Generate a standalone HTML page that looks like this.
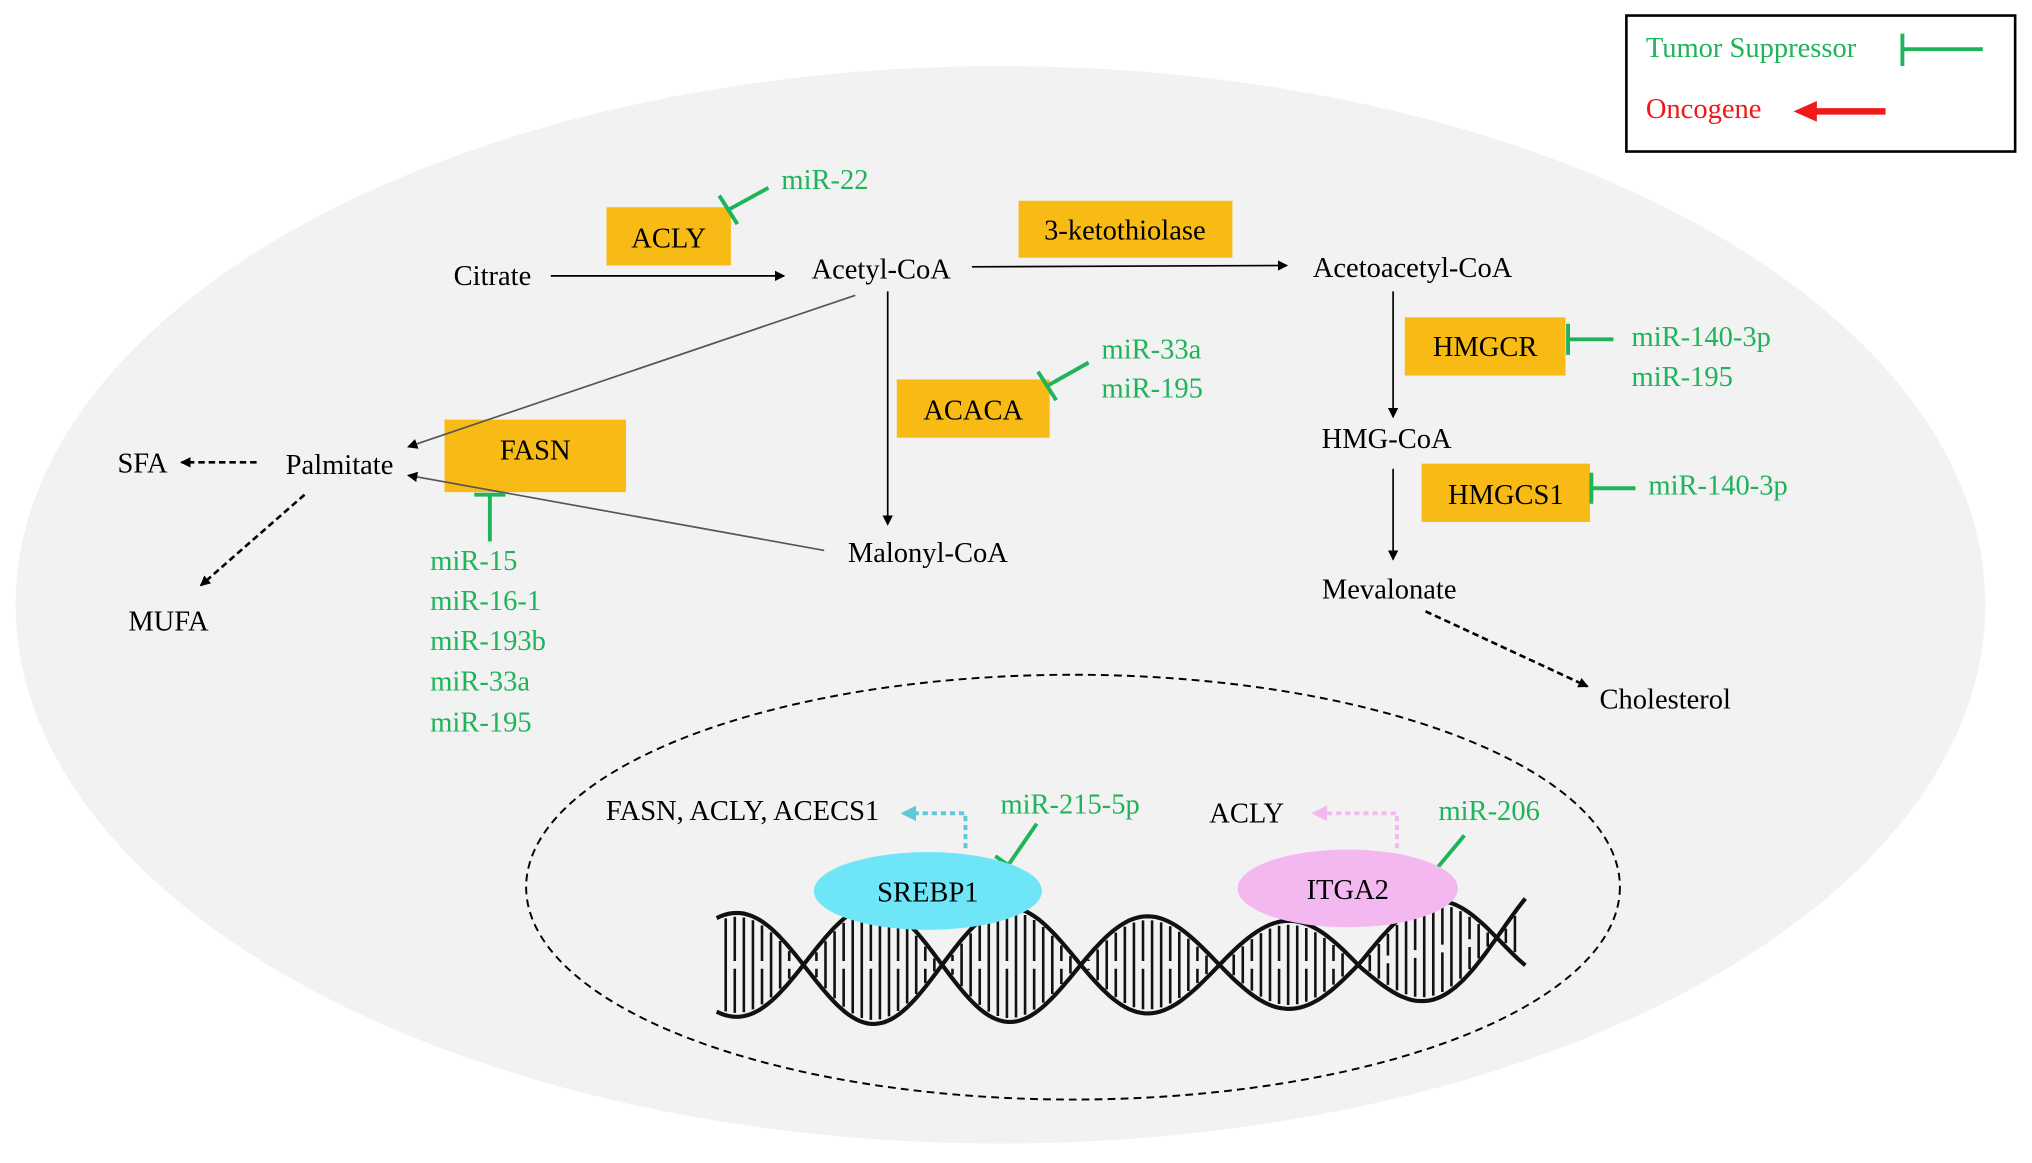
<!DOCTYPE html>
<html><head><meta charset="utf-8"><style>
html,body{margin:0;padding:0;background:#fff;}
svg{display:block;}
text{font-family:"Liberation Serif",serif;font-size:22px;}
.g{fill:#1fb35a;}
.o{fill:#f8bb15;}
</style></head><body>
<svg id="s" width="2032" height="1163" viewBox="0 0 1568 898" preserveAspectRatio="none" xmlns="http://www.w3.org/2000/svg">
<defs>
<marker id="a" markerWidth="8" markerHeight="8" refX="7" refY="4" orient="auto" markerUnits="userSpaceOnUse"><path d="M0,0 L8,4 L0,8 z" fill="#000"/></marker>
<marker id="ac" markerWidth="12" markerHeight="12" refX="10" refY="6" orient="auto" markerUnits="userSpaceOnUse"><path d="M0,0 L12,6 L0,12 z" fill="#5cc8d8"/></marker>
<marker id="ap" markerWidth="12" markerHeight="12" refX="10" refY="6" orient="auto" markerUnits="userSpaceOnUse"><path d="M0,0 L12,6 L0,12 z" fill="#f4b8f0"/></marker>
</defs>
<rect width="1568" height="898" fill="#fff"/>
<ellipse cx="772" cy="467" rx="760" ry="416" fill="#f2f2f2"/>
<rect x="1255" y="12" width="300" height="105" fill="#fff" stroke="#000" stroke-width="2"/>
<text x="1270" y="44" class="g">Tumor Suppressor</text>
<path d="M1468,26V51M1468,38H1530" stroke="#1fb35a" stroke-width="3" fill="none"/>
<text x="1270" y="91" fill="#f01818">Oncogene</text>
<path d="M1455,86H1398" stroke="#f01818" stroke-width="5"/>
<path d="M1384,86L1402,78L1402,94z" fill="#f01818"/>
<rect x="468" y="160" width="96" height="45" class="o"/><text x="516" y="191" text-anchor="middle">ACLY</text>
<rect x="786" y="155" width="165" height="44" class="o"/><text x="868" y="185" text-anchor="middle">3-ketothiolase</text>
<rect x="1084" y="245" width="124" height="45" class="o"/><text x="1146" y="275" text-anchor="middle">HMGCR</text>
<rect x="692" y="293" width="118" height="45" class="o"/><text x="751" y="324" text-anchor="middle">ACACA</text>
<rect x="343" y="324" width="140" height="56" class="o"/><text x="413" y="355" text-anchor="middle">FASN</text>
<rect x="1097" y="358" width="130" height="45" class="o"/><text x="1162" y="389" text-anchor="middle">HMGCS1</text>
<text x="380" y="220" text-anchor="middle">Citrate</text>
<text x="680" y="215" text-anchor="middle">Acetyl-CoA</text>
<text x="1090" y="214" text-anchor="middle">Acetoacetyl-CoA</text>
<text x="1070" y="346" text-anchor="middle">HMG-CoA</text>
<text x="1072" y="462" text-anchor="middle">Mevalonate</text>
<text x="1285" y="547" text-anchor="middle">Cholesterol</text>
<text x="716" y="434" text-anchor="middle">Malonyl-CoA</text>
<text x="262" y="366" text-anchor="middle">Palmitate</text>
<text x="110" y="365" text-anchor="middle">SFA</text>
<text x="130" y="487" text-anchor="middle">MUFA</text>
<g stroke="#000" stroke-width="1.3" fill="none">
<path d="M425,213H605" marker-end="url(#a)"/>
<path d="M750,206L993,205" marker-end="url(#a)"/>
<path d="M685,225V405" marker-end="url(#a)"/>
<path d="M660,228L315,345" stroke="#555" marker-end="url(#a)"/>
<path d="M636,425L315,367" stroke="#555" marker-end="url(#a)"/>
<path d="M1075,225V322" marker-end="url(#a)"/>
<path d="M1075,362V432" marker-end="url(#a)"/>
<path d="M198,357H140" stroke-width="2" stroke-dasharray="5,3" marker-end="url(#a)"/>
<path d="M235,382L155,452" stroke-width="2" stroke-dasharray="5,3" marker-end="url(#a)"/>
<path d="M1100,472L1225,530" stroke-width="2" stroke-dasharray="5,3" marker-end="url(#a)"/>
</g>
<text x="603" y="146" class="g">miR-22</text>
<text x="850" y="277" class="g">miR-33a</text>
<text x="850" y="307" class="g">miR-195</text>
<text x="1259" y="267" class="g">miR-140-3p</text>
<text x="1259" y="298" class="g">miR-195</text>
<text x="1272" y="382" class="g">miR-140-3p</text>
<text x="332" y="440" class="g">miR-15</text>
<text x="332" y="471" class="g">miR-16-1</text>
<text x="332" y="502" class="g">miR-193b</text>
<text x="332" y="533" class="g">miR-33a</text>
<text x="332" y="565" class="g">miR-195</text>
<text x="772" y="628" class="g">miR-215-5p</text>
<text x="1110" y="633" class="g">miR-206</text>
<g stroke="#1fb35a" stroke-width="3" fill="none">
<path d="M593,145L562,162M555,151L569,173"/>
<path d="M840,280L808,298M801,287L815,309"/>
<path d="M1245,262H1210M1210,250V274"/>
<path d="M1262,377H1228M1228,365V389"/>
<path d="M378,418V382M366,382H390"/>
<path d="M800,636L778,668M768,661L788,675"/>
<path d="M1130,645L1105,675M1096,667L1114,683"/>
</g>
<ellipse cx="828" cy="685" rx="422" ry="164" fill="none" stroke="#000" stroke-width="1.5" stroke-dasharray="6,4"/>
<path d="M745,655V628H697" stroke="#5cc8d8" stroke-width="3" stroke-dasharray="4,3" fill="none" marker-end="url(#ac)"/>
<path d="M1078,655V628H1014" stroke="#f4b8f0" stroke-width="3" stroke-dasharray="4,3" fill="none" marker-end="url(#ap)"/>
<text x="573" y="633" text-anchor="middle">FASN, ACLY, ACECS1</text>
<text x="962" y="635" text-anchor="middle">ACLY</text>
<g id="dna"></g>
<ellipse cx="716" cy="688" rx="88" ry="30" fill="#6fe6f7"/>
<text x="716" y="696" text-anchor="middle">SREBP1</text>
<ellipse cx="1040" cy="686" rx="85" ry="30" fill="#f4b8f0"/>
<text x="1040" y="694" text-anchor="middle">ITGA2</text>
</svg>
<script>
(function(){
var g=document.getElementById('dna');
function y(x,s){var A=40+6*Math.sin(x/90);return 745+s*A*Math.sin(Math.PI*(x-620)/107)-(x>1050?(x-1050)*0.2:0);}
var p1='',p2='';
for(var x=553;x<=1178;x+=3){p1+=(x==553?'M':'L')+x+','+y(x,1).toFixed(1);p2+=(x==553?'M':'L')+x+','+y(x,-1).toFixed(1);}
var h='<path d="'+p1+'" stroke="#111" stroke-width="3.2" fill="none"/><path d="'+p2+'" stroke="#111" stroke-width="3.2" fill="none"/>';
var r='';
for(var x=560;x<1170;x+=7){var a=y(x,1),b=y(x,-1);if(Math.abs(a-b)<14)continue;var t=Math.min(a,b)+3,u=Math.max(a,b)-3;
if(((x/7)|0)%3==0){var m=(t+u)/2;r+='M'+x+','+t.toFixed(1)+'V'+(m-3).toFixed(1)+'M'+x+','+(m+3).toFixed(1)+'V'+u.toFixed(1);}else r+='M'+x+','+t.toFixed(1)+'V'+u.toFixed(1);}
h+='<path d="'+r+'" stroke="#111" stroke-width="2" fill="none"/>';
g.innerHTML=h;
})();
</script>
</body></html>
